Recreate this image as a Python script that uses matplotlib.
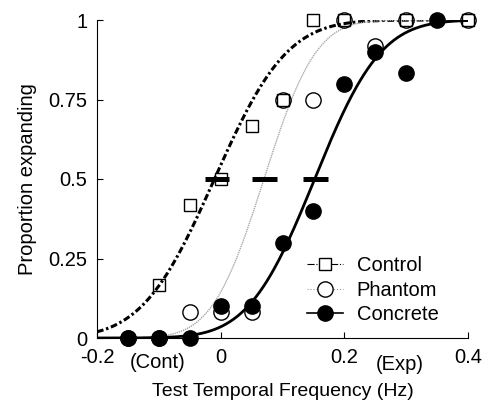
import math
import numpy as np
import matplotlib
matplotlib.use("Agg")
import matplotlib.pyplot as plt
from matplotlib.lines import Line2D

plt.rcParams['font.family'] = ['Liberation Sans', 'DejaVu Sans']

# data
ctrl_x = [-0.1, -0.05, 0.0, 0.05, 0.1, 0.15, 0.2, 0.3, 0.4]
ctrl_y = [0.167, 0.417, 0.5, 0.667, 0.75, 1.0, 1.0, 1.0, 1.0]

phan_x = [-0.15, -0.1, -0.05, 0.0, 0.05, 0.1, 0.15, 0.2, 0.25, 0.3, 0.4]
phan_y = [0.0, 0.0, 0.083, 0.083, 0.083, 0.75, 0.75, 1.0, 0.917, 1.0, 1.0]

conc_x = [-0.15, -0.1, -0.05, 0.0, 0.05, 0.1, 0.15, 0.2, 0.25, 0.3, 0.35]
conc_y = [0.0, 0.0, 0.0, 0.1, 0.1, 0.3, 0.4, 0.8, 0.9, 0.833, 1.0]

# cumulative gaussian fits (mean, sd) and the PSE markers at 0.5
fit_mu = [-0.01, 0.07, 0.152]
fit_sd = [0.092, 0.066, 0.084]
pse = [-0.006, 0.071, 0.153]

ncdf = np.vectorize(lambda z: 0.5 * (1 + math.erf(z / math.sqrt(2))))

fs = 14.5

fig = plt.figure(figsize=(4.86, 4.0), dpi=100)
ax = fig.add_axes([0.1996, 0.155, 0.7634, 0.795])

xs = np.linspace(-0.2, 0.4, 400)
ax.plot(xs, ncdf((xs - fit_mu[0]) / fit_sd[0]), color='black', lw=2.2, ls=(0, (2.2, 0.9, 0.8, 0.9)))
ax.plot(xs, ncdf((xs - fit_mu[1]) / fit_sd[1]), color='#a8a8a8', lw=1.0, ls=(0, (1, 0.6)))
ax.plot(xs, ncdf((xs - fit_mu[2]) / fit_sd[2]), color='black', lw=2.0)

ax.plot(ctrl_x, ctrl_y, 's', ms=9, mfc='none', mec='black', mew=1.0, clip_on=False, zorder=3)
ax.plot(phan_x, phan_y, 'o', ms=11, mfc='none', mec='black', mew=1.0, clip_on=False, zorder=3)
ax.plot(conc_x, conc_y, 'o', ms=11, mfc='black', mec='black', clip_on=False, zorder=4)

ax.hlines([0.5] * len(pse), [p - 0.02 for p in pse], [p + 0.02 for p in pse],
          color='black', lw=3.6, zorder=5)

ax.set_xlim(-0.2, 0.4)
ax.set_ylim(0, 1)
ax.set_xticks([-0.2, 0, 0.2, 0.4])
ax.set_xticklabels(['-0.2', '0', '0.2', '0.4'])
ax.set_yticks([0, 0.25, 0.5, 0.75, 1])
ax.set_yticklabels(['0', '0.25', '0.5', '0.75', '1'])
ax.tick_params(direction='in', length=4, width=0.8, labelsize=fs, pad=7)
for s in ['top', 'right']:
    ax.spines[s].set_visible(False)
for s in ['left', 'bottom']:
    ax.spines[s].set_linewidth(0.8)

ax.text(-0.102, -0.077, '(Cont)', transform=ax.get_xaxis_transform(),
        ha='center', va='center', fontsize=fs)
ax.text(0.289, -0.083, '(Exp)', transform=ax.get_xaxis_transform(),
        ha='center', va='center', fontsize=fs)

ax.set_xlabel('Test Temporal Frequency (Hz)', fontsize=14, labelpad=12)
ax.set_ylabel('Proportion expanding', fontsize=fs, labelpad=8)

handles = [
    Line2D([], [], color='black', lw=0.8, ls='-.', marker='s', ms=9, mfc='white', mec='black', mew=1.0),
    Line2D([], [], color='#9a9a9a', lw=0.8, ls=':', marker='o', ms=11, mfc='white', mec='black', mew=1.0),
    Line2D([], [], color='black', lw=1.2, marker='o', ms=11, mfc='black', mec='black'),
]
ax.legend(handles, ['Control', 'Phantom', 'Concrete'], loc='upper left',
          bbox_to_anchor=(0.543, 0.283), frameon=False, fontsize=fs,
          handlelength=1.8, handletextpad=0.7, labelspacing=0.28, borderaxespad=0)

fig.savefig('out.png', dpi=100)
